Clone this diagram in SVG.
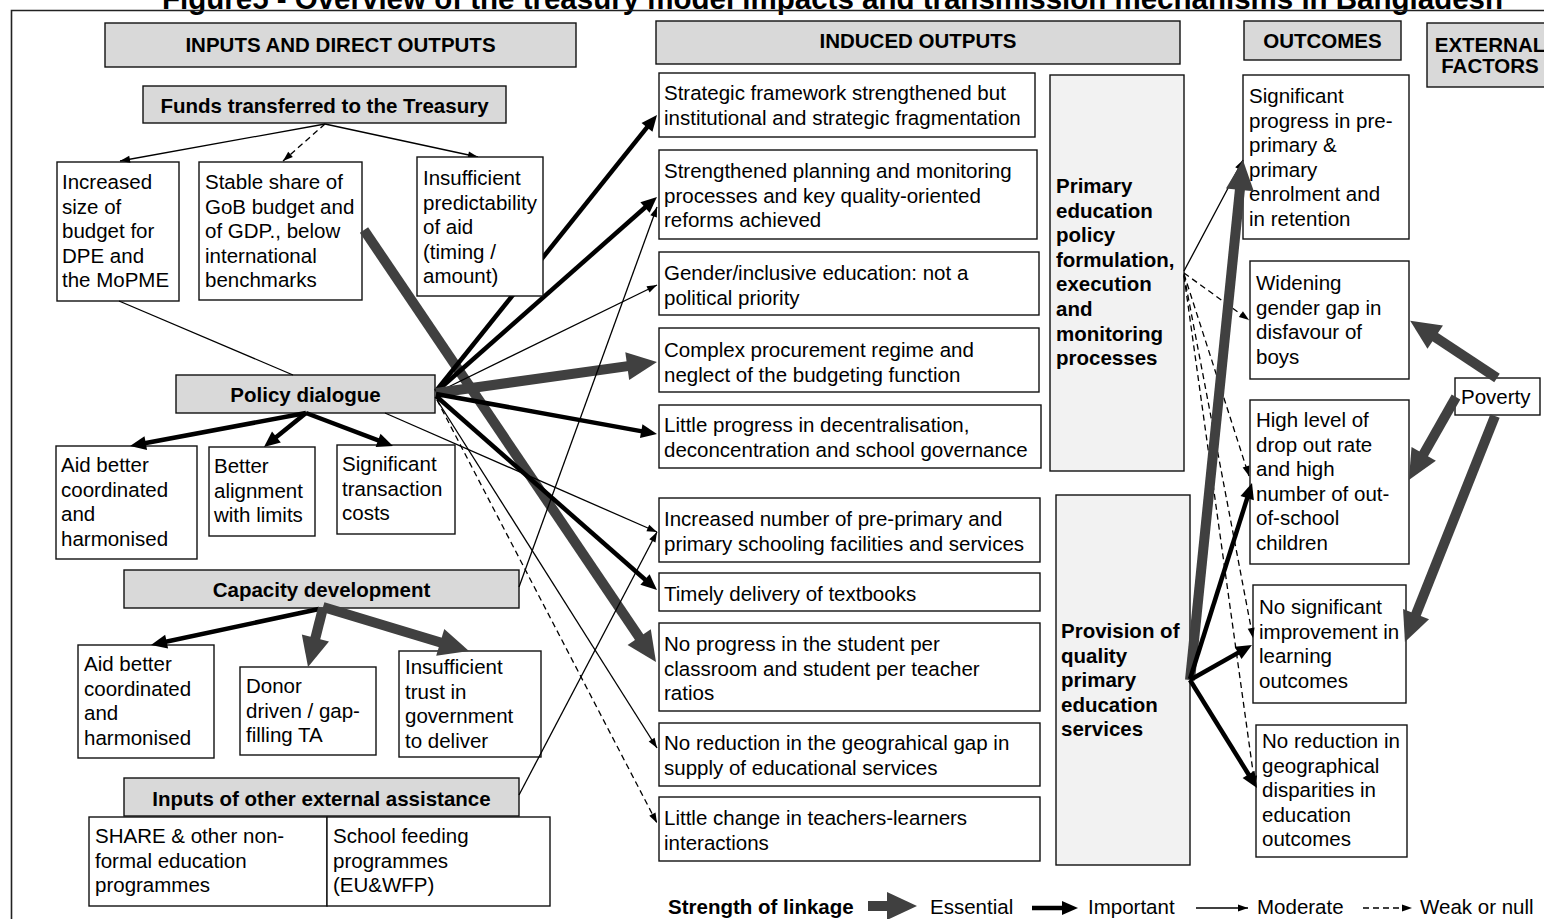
<svg xmlns="http://www.w3.org/2000/svg" width="1544" height="919" viewBox="0 0 1544 919">
<style>
.t{font-family:"Liberation Sans",Arial,Helvetica,sans-serif;font-size:20.5px;fill:#000}
.b{font-weight:bold}
.c{text-anchor:middle}
.box{fill:#fff;stroke:#111;stroke-width:1.4}
.hdr{fill:#d9d9d9;stroke:#111;stroke-width:1.4}
.pale{fill:#f2f2f2;stroke:#111;stroke-width:1.4}
.ess{fill:none;stroke:#404040;stroke-width:10;marker-end:url(#mE)}
.imp{fill:none;stroke:#000;stroke-width:4.5;marker-end:url(#mI)}
.mod{fill:none;stroke:#000;stroke-width:1.3;marker-end:url(#mM)}
.pln{fill:none;stroke:#000;stroke-width:1.3}
.weak{fill:none;stroke:#000;stroke-width:1.3;stroke-dasharray:6 4;marker-end:url(#mM)}
</style>
<defs>
<marker id="mE" markerUnits="userSpaceOnUse" markerWidth="30" markerHeight="28" refX="15" refY="14" orient="auto" overflow="visible"><path d="M0,0 L30,14 L0,28 Z" fill="#404040"/></marker>
<marker id="mI" markerUnits="userSpaceOnUse" markerWidth="16" markerHeight="14" refX="8" refY="7" orient="auto" overflow="visible"><path d="M0,0 L16,7 L0,14 Z" fill="#000"/></marker>
<marker id="mM" markerUnits="userSpaceOnUse" markerWidth="10" markerHeight="7" refX="10" refY="3.5" orient="auto" overflow="visible"><path d="M0,0 L10,3.5 L0,7 Z" fill="#000"/></marker>
</defs>
<rect width="1544" height="919" fill="#fff"/>
<text class="t b" x="162" y="9" style="font-size:29.5px">Figure5 - Overview of the treasury model impacts and transmission mechanisms in Bangladesh</text>
<path d="M11.5,919 V10.5 H1544" fill="none" stroke="#222" stroke-width="1.6"/>

<g id="n-inputs-hdr"><rect class="hdr" x="105" y="23" width="471" height="44"/><text class="t b c" x="340.5" y="52">INPUTS AND DIRECT OUTPUTS</text></g>
<g id="n-funds"><rect class="hdr" x="143" y="86" width="363" height="37"/><text class="t b c" x="324.5" y="113">Funds transferred to the Treasury</text></g>
<g id="n-increased-budget"><rect class="box" x="57" y="162" width="122" height="139"/><text class="t" x="62"><tspan x="62" y="189">Increased</tspan><tspan x="62" y="213.6">size of</tspan><tspan x="62" y="238.2">budget for</tspan><tspan x="62" y="262.8">DPE and</tspan><tspan x="62" y="287.4">the MoPME</tspan></text></g>
<g id="n-stable-share"><rect class="box" x="199" y="162" width="163" height="138"/><text class="t"><tspan x="205" y="189">Stable share of</tspan><tspan x="205" y="213.6">GoB budget and</tspan><tspan x="205" y="238.2">of GDP., below</tspan><tspan x="205" y="262.8">international</tspan><tspan x="205" y="287.4">benchmarks</tspan></text></g>
<g id="n-policy"><rect class="hdr" x="176" y="375" width="259" height="38"/><text class="t b c" x="305.5" y="402">Policy dialogue</text></g>
<g id="n-aid1"><rect class="box" x="56" y="446" width="141" height="113"/><text class="t"><tspan x="61" y="472">Aid better</tspan><tspan x="61" y="496.6">coordinated</tspan><tspan x="61" y="521.2">and</tspan><tspan x="61" y="545.8">harmonised</tspan></text></g>
<g id="n-alignment"><rect class="box" x="209" y="447" width="106" height="89"/><text class="t"><tspan x="214" y="473">Better</tspan><tspan x="214" y="497.6">alignment</tspan><tspan x="214" y="522.2">with limits</tspan></text></g>
<g id="n-transaction"><rect class="box" x="337" y="445" width="118" height="89"/><text class="t"><tspan x="342" y="471">Significant</tspan><tspan x="342" y="495.6">transaction</tspan><tspan x="342" y="520.2">costs</tspan></text></g>
<g id="n-capacity"><rect class="hdr" x="124" y="570" width="395" height="38"/><text class="t b c" x="321.5" y="597">Capacity development</text></g>
<g id="n-aid2"><rect class="box" x="78" y="645" width="136" height="113"/><text class="t"><tspan x="84" y="671">Aid better</tspan><tspan x="84" y="695.6">coordinated</tspan><tspan x="84" y="720.2">and</tspan><tspan x="84" y="744.8">harmonised</tspan></text></g>
<g id="n-donor"><rect class="box" x="240" y="667" width="136" height="88"/><text class="t"><tspan x="246" y="693">Donor</tspan><tspan x="246" y="717.6">driven / gap-</tspan><tspan x="246" y="742.2">filling TA</tspan></text></g>
<g id="n-trust"><rect class="box" x="399" y="651" width="142" height="106"/><text class="t"><tspan x="405" y="674">Insufficient</tspan><tspan x="405" y="698.6">trust in</tspan><tspan x="405" y="723.2">government</tspan><tspan x="405" y="747.8">to deliver</tspan></text></g>
<g id="n-other-ext"><rect class="hdr" x="124" y="778" width="395" height="38"/><text class="t b c" x="321.5" y="806">Inputs of other external assistance</text></g>
<g id="n-share"><rect class="box" x="89" y="817" width="238" height="89"/><text class="t"><tspan x="95" y="843">SHARE &amp; other non-</tspan><tspan x="95" y="867.6">formal education</tspan><tspan x="95" y="892.2">programmes</tspan></text></g>
<g id="n-feeding"><rect class="box" x="327" y="817" width="223" height="89"/><text class="t"><tspan x="333" y="843">School feeding</tspan><tspan x="333" y="867.6">programmes</tspan><tspan x="333" y="892.2">(EU&amp;WFP)</tspan></text></g>

<g id="n-induced-hdr"><rect class="hdr" x="656" y="21" width="524" height="43"/><text class="t b c" x="918" y="48">INDUCED OUTPUTS</text></g>
<g id="n-strategic"><rect class="box" x="659" y="73" width="376" height="64"/><text class="t"><tspan x="664" y="100">Strategic framework strengthened but</tspan><tspan x="664" y="124.6">institutional and strategic fragmentation</tspan></text></g>
<g id="n-planning"><rect class="box" x="659" y="150" width="378" height="89"/><text class="t"><tspan x="664" y="178">Strengthened planning and monitoring</tspan><tspan x="664" y="202.6">processes and key quality-oriented</tspan><tspan x="664" y="227.2">reforms achieved</tspan></text></g>
<g id="n-gender"><rect class="box" x="659" y="252" width="380" height="63"/><text class="t"><tspan x="664" y="280">Gender/inclusive education: not a</tspan><tspan x="664" y="304.6">political priority</tspan></text></g>
<g id="n-procurement"><rect class="box" x="659" y="328" width="380" height="64"/><text class="t"><tspan x="664" y="357">Complex procurement regime and</tspan><tspan x="664" y="381.6">neglect of the budgeting function</tspan></text></g>
<g id="n-decentral"><rect class="box" x="659" y="405" width="382" height="63"/><text class="t"><tspan x="664" y="432">Little progress in decentralisation,</tspan><tspan x="664" y="456.6">deconcentration and school governance</tspan></text></g>
<g id="n-facilities"><rect class="box" x="659" y="498" width="381" height="64"/><text class="t"><tspan x="664" y="526">Increased number of pre-primary and</tspan><tspan x="664" y="550.6">primary schooling facilities and services</tspan></text></g>
<g id="n-textbooks"><rect class="box" x="659" y="573" width="381" height="38"/><text class="t" x="664" y="601">Timely delivery of textbooks</text></g>
<g id="n-ratios"><rect class="box" x="659" y="623" width="381" height="88"/><text class="t"><tspan x="664" y="651">No progress in the student per</tspan><tspan x="664" y="675.6">classroom and student per teacher</tspan><tspan x="664" y="700.2">ratios</tspan></text></g>
<g id="n-geo-gap"><rect class="box" x="659" y="723" width="381" height="63"/><text class="t"><tspan x="664" y="750">No reduction in the geograhical gap in</tspan><tspan x="664" y="774.6">supply of educational services</tspan></text></g>
<g id="n-interactions"><rect class="box" x="659" y="797" width="381" height="64"/><text class="t"><tspan x="664" y="825">Little change in teachers-learners</tspan><tspan x="664" y="849.6">interactions</tspan></text></g>
<g id="n-policy-proc"><rect class="pale" x="1050" y="75" width="134" height="396"/><text class="t b"><tspan x="1056" y="193">Primary</tspan><tspan x="1056" y="217.6">education</tspan><tspan x="1056" y="242.2">policy</tspan><tspan x="1056" y="266.8">formulation,</tspan><tspan x="1056" y="291.4">execution</tspan><tspan x="1056" y="316">and</tspan><tspan x="1056" y="340.6">monitoring</tspan><tspan x="1056" y="365.2">processes</tspan></text></g>
<g id="n-provision"><rect class="pale" x="1056" y="495" width="134" height="370"/><text class="t b"><tspan x="1061" y="638">Provision of</tspan><tspan x="1061" y="662.6">quality</tspan><tspan x="1061" y="687.2">primary</tspan><tspan x="1061" y="711.8">education</tspan><tspan x="1061" y="736.4">services</tspan></text></g>

<g id="n-outcomes-hdr"><rect class="hdr" x="1244" y="21" width="157" height="39"/><text class="t b c" x="1322.5" y="48">OUTCOMES</text></g>
<g id="n-external-hdr"><rect class="hdr" x="1427" y="23" width="140" height="64"/><text class="t b c"><tspan x="1490" y="52">EXTERNAL</tspan><tspan x="1490" y="73">FACTORS</tspan></text></g>
<g id="n-enrolment"><rect class="box" x="1243" y="75" width="166" height="164"/><text class="t"><tspan x="1249" y="103">Significant</tspan><tspan x="1249" y="127.6">progress in pre-</tspan><tspan x="1249" y="152.2">primary &amp;</tspan><tspan x="1249" y="176.8">primary</tspan><tspan x="1249" y="201.4">enrolment and</tspan><tspan x="1249" y="226">in retention</tspan></text></g>
<g id="n-gender-gap"><rect class="box" x="1250" y="261" width="159" height="118"/><text class="t"><tspan x="1256" y="290">Widening</tspan><tspan x="1256" y="314.6">gender gap in</tspan><tspan x="1256" y="339.2">disfavour of</tspan><tspan x="1256" y="363.8">boys</tspan></text></g>
<g id="n-dropout"><rect class="box" x="1250" y="400" width="159" height="164"/><text class="t"><tspan x="1256" y="427">High level of</tspan><tspan x="1256" y="451.6">drop out rate</tspan><tspan x="1256" y="476.2">and high</tspan><tspan x="1256" y="500.8">number of out-</tspan><tspan x="1256" y="525.4">of-school</tspan><tspan x="1256" y="550">children</tspan></text></g>
<g id="n-learning"><rect class="box" x="1253" y="585" width="153" height="118"/><text class="t"><tspan x="1259" y="614">No significant</tspan><tspan x="1259" y="638.6">improvement in</tspan><tspan x="1259" y="663.2">learning</tspan><tspan x="1259" y="687.8">outcomes</tspan></text></g>
<g id="n-disparities"><rect class="box" x="1256" y="725" width="151" height="132"/><text class="t"><tspan x="1262" y="748">No reduction in</tspan><tspan x="1262" y="772.6">geographical</tspan><tspan x="1262" y="797.2">disparities in</tspan><tspan x="1262" y="821.8">education</tspan><tspan x="1262" y="846.4">outcomes</tspan></text></g>
<g id="n-poverty"><rect class="box" x="1455" y="378" width="85" height="37"/><text class="t" x="1461" y="404">Poverty</text></g>

<g id="connectors">
<line class="mod" x1="325" y1="124" x2="120" y2="161"/>
<line class="weak" x1="325" y1="124" x2="283" y2="161"/>
<line class="mod" x1="325" y1="124" x2="478" y2="157"/>
<line class="pln" x1="119" y1="301" x2="293" y2="375"/>
<line class="ess" x1="364" y1="230" x2="647.6" y2="649.6"/>
<line class="imp" x1="436" y1="391" x2="652" y2="121.2"/>
<line class="imp" x1="436" y1="392" x2="651" y2="202.3"/>
<line class="mod" x1="436" y1="393" x2="657" y2="285"/>
<line class="ess" x1="436" y1="393" x2="642.1" y2="364.1"/>
<line class="imp" x1="436" y1="394" x2="649.1" y2="432.6"/>
<line class="mod" x1="385" y1="413" x2="657" y2="532"/>
<line class="imp" x1="436" y1="396" x2="651" y2="584.7"/>
<line class="mod" x1="437" y1="400" x2="657" y2="748"/>
<line class="weak" x1="437" y1="400" x2="657" y2="823"/>
<line class="imp" x1="306" y1="413" x2="137.9" y2="444.5"/>
<line class="imp" x1="306" y1="413" x2="270.2" y2="442"/>
<line class="imp" x1="306" y1="413" x2="385.5" y2="443.2"/>
<line class="mod" x1="519" y1="587" x2="657" y2="207"/>
<line class="imp" x1="319" y1="609" x2="158.8" y2="643.3"/>
<line class="ess" x1="323" y1="608" x2="311.7" y2="652.5"/>
<line class="ess" x1="323" y1="607" x2="454.6" y2="646.7"/>
<line class="mod" x1="519" y1="795" x2="657" y2="532"/>
<line class="mod" x1="1184" y1="271" x2="1243" y2="160"/>
<line class="weak" x1="1184" y1="273" x2="1249" y2="320"/>
<line class="weak" x1="1184" y1="274" x2="1249" y2="476"/>
<line class="weak" x1="1184" y1="275" x2="1253" y2="638"/>
<line class="weak" x1="1184" y1="276" x2="1255" y2="786"/>
<line class="ess" x1="1190" y1="680" x2="1241.4" y2="174.9"/>
<line class="imp" x1="1190" y1="679" x2="1249.6" y2="490.6"/>
<line class="imp" x1="1190" y1="680" x2="1245" y2="648.9"/>
<line class="imp" x1="1190" y1="680" x2="1252.8" y2="781.2"/>
<line class="ess" x1="1497" y1="378" x2="1422.7" y2="328.9"/>
<line class="ess" x1="1456" y1="397" x2="1416.3" y2="466.9"/>
<line class="ess" x1="1495" y1="416" x2="1410.5" y2="628.1"/>
</g>

<g id="n-insufficient-pred"><rect class="box" x="417" y="157" width="126" height="139"/><text class="t"><tspan x="423" y="185">Insufficient</tspan><tspan x="423" y="209.6">predictability</tspan><tspan x="423" y="234.2">of aid</tspan><tspan x="423" y="258.8">(timing /</tspan><tspan x="423" y="283.4">amount)</tspan></text></g>

<g id="legend">
<text class="t b" x="668" y="914">Strength of linkage</text>
<line class="ess" x1="868" y1="906" x2="902" y2="906"/>
<text class="t" x="930" y="914">Essential</text>
<line class="imp" x1="1032" y1="908" x2="1070" y2="908"/>
<text class="t" x="1088" y="914">Important</text>
<line class="mod" x1="1196" y1="908" x2="1248" y2="908"/>
<text class="t" x="1257" y="914">Moderate</text>
<line class="weak" x1="1363" y1="908" x2="1412" y2="908"/>
<text class="t" x="1420" y="914">Weak or null</text>
</g>
</svg>
